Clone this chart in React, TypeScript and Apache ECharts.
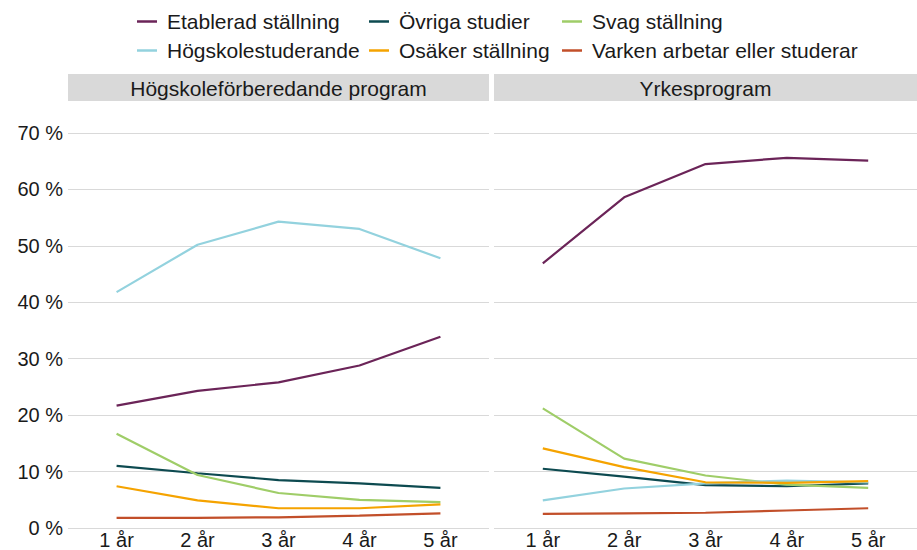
import React, { useEffect, useRef } from "react";
import * as echarts from "echarts";

const categories = ["1 år", "2 år", "3 år", "4 år", "5 år"];
const panels = ["Högskoleförberedande program", "Yrkesprogram"];
const seriesNames = [
  "Etablerad ställning",
  "Övriga studier",
  "Svag ställning",
  "Högskolestuderande",
  "Osäker ställning",
  "Varken arbetar eller studerar",
];
const seriesColors = ["#6b2458", "#0d4a50", "#9fcd68", "#93d2de", "#f5a300", "#c24f2a"];

// Högskoleförberedande program
const hfEtablerad = [21.7, 24.3, 25.8, 28.8, 33.9];
const hfOvriga = [11.0, 9.7, 8.5, 7.9, 7.1];
const hfSvag = [16.7, 9.4, 6.2, 5.0, 4.6];
const hfHogskola = [41.8, 50.2, 54.3, 53.0, 47.8];
const hfOsaker = [7.4, 4.9, 3.5, 3.5, 4.2];
const hfVarken = [1.8, 1.8, 1.9, 2.2, 2.6];

// Yrkesprogram
const ykEtablerad = [46.9, 58.6, 64.5, 65.6, 65.1];
const ykOvriga = [10.5, 9.1, 7.6, 7.4, 7.9];
const ykSvag = [21.2, 12.3, 9.3, 7.7, 7.1];
const ykHogskola = [4.9, 7.0, 7.9, 8.4, 8.1];
const ykOsaker = [14.1, 10.8, 8.1, 8.0, 8.3];
const ykVarken = [2.5, 2.6, 2.7, 3.1, 3.5];

const yMin = 0;
const yMax = 70;
const yInterval = 10;

const FONT = "'Liberation Sans', Arial, sans-serif";

export default function App() {
  const ref = useRef<HTMLDivElement>(null);

  useEffect(() => {
    if (!ref.current) return;
    const chart = echarts.init(ref.current, undefined, { renderer: "svg" });

    const panelData = [
      [hfEtablerad, hfOvriga, hfSvag, hfHogskola, hfOsaker, hfVarken],
      [ykEtablerad, ykOvriga, ykSvag, ykHogskola, ykOsaker, ykVarken],
    ];

    const gridDefs = [
      { left: 68, width: 421 },
      { left: 494, width: 423 },
    ];

    const grids = gridDefs.map((g) => ({ left: g.left, width: g.width, top: 133, height: 396 }));

    const xAxes = gridDefs.map((_, i) => ({
      type: "value",
      gridIndex: i,
      min: 0.4,
      max: 5.6,
      axisLine: { show: false },
      axisTick: { show: false },
      splitLine: { show: false },
      axisLabel: {
        customValues: categories.map((_, k) => k + 1),
        formatter: (v: number) => categories[Math.round(v) - 1] ?? "",
        fontSize: 20,
        fontFamily: FONT,
        color: "#1a1a1a",
        margin: 2,
      },
    }));

    const yAxes = gridDefs.map((_, i) => ({
      type: "value",
      gridIndex: i,
      min: yMin,
      max: yMax,
      interval: yInterval,
      axisLine: { show: false },
      axisTick: { show: false },
      splitLine: { show: true, lineStyle: { color: "#d9d9d9", width: 1.2 } },
      axisLabel: {
        show: i === 0,
        formatter: (v: number) => `${v} %`,
        fontSize: 20,
        fontFamily: FONT,
        color: "#1a1a1a",
        margin: 5,
      },
    }));

    const series: any[] = [];
    panelData.forEach((sets, p) => {
      sets.forEach((vals, s) => {
        series.push({
          type: "line",
          name: seriesNames[s],
          xAxisIndex: p,
          yAxisIndex: p,
          data: vals.map((v, k) => [k + 1, v]),
          symbol: "none",
          color: seriesColors[s],
          lineStyle: { width: 2.2, color: seriesColors[s] },
        });
      });
    });

    const legendPos = [
      { left: 137, top: 11 },
      { left: 369, top: 11 },
      { left: 562, top: 11 },
      { left: 137, top: 40 },
      { left: 369, top: 40 },
      { left: 562, top: 40 },
    ];

    const legends = seriesNames.map((name, i) => ({
      data: [name],
      left: legendPos[i].left,
      top: legendPos[i].top,
      padding: 0,
      icon: "rect",
      itemWidth: 20,
      itemHeight: 2.5,
      itemGap: 0,
      selectedMode: false,
      textStyle: { fontSize: 21, fontFamily: FONT, color: "#1a1a1a", padding: [0, 0, 0, 5] },
    }));

    const stripTop = 74;
    const stripH = 27;
    const graphic: any[] = [];
    gridDefs.forEach((g, i) => {
      graphic.push({
        type: "rect",
        shape: { x: g.left, y: stripTop, width: g.width, height: stripH },
        style: { fill: "#d9d9d9" },
        silent: true,
      });
      graphic.push({
        type: "text",
        x: g.left + g.width / 2,
        y: stripTop + stripH / 2 + 1,
        style: {
          text: panels[i],
          fontSize: 21,
          fontFamily: FONT,
          fill: "#1a1a1a",
          textAlign: "center",
          textVerticalAlign: "middle",
        },
        silent: true,
      });
    });

    chart.setOption({
      animation: false,
      backgroundColor: "#ffffff",
      grid: grids,
      xAxis: xAxes,
      yAxis: yAxes,
      legend: legends,
      series,
      graphic,
    });

    return () => chart.dispose();
  }, []);

  return <div ref={ref} style={{ width: 917, height: 550, position: "absolute", left: 0, top: 0 }} />;
}
